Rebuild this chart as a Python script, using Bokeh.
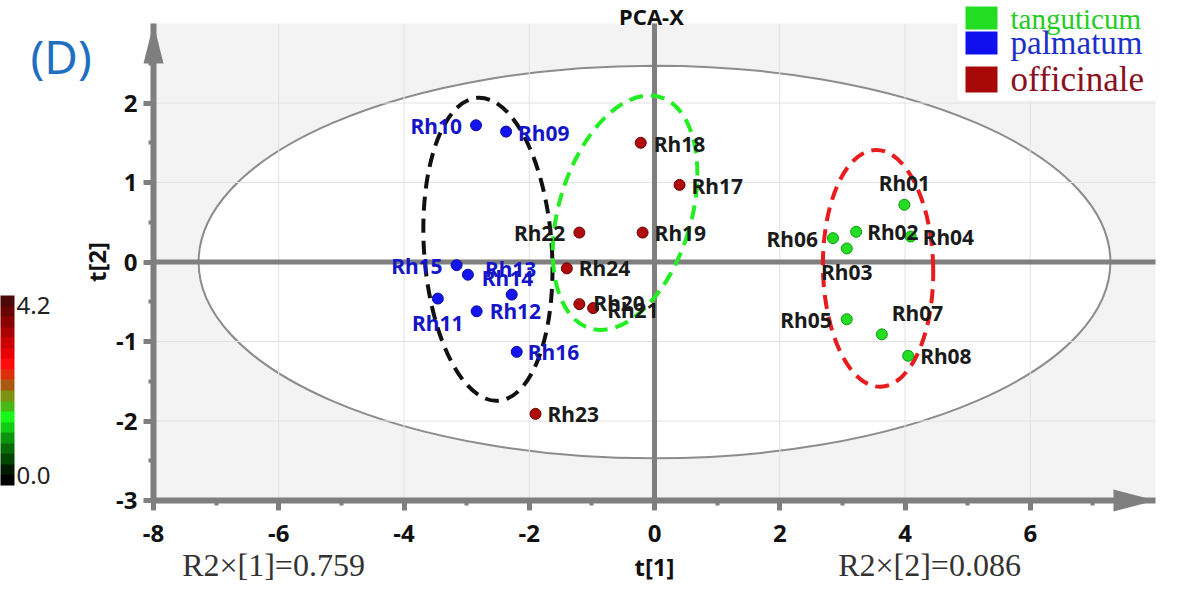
from bokeh.plotting import figure
from bokeh.models import (Range1d, FixedTicker, Label, BoxAnnotation, ColorBar,
                          LinearColorMapper, PrintfTickFormatter, ColumnDataSource)
from bokeh.core.properties import value
from bokeh.embed import file_html
from bokeh.resources import INLINE

# ---------------- data ----------------
TANG_NAMES = ["Rh01", "Rh02", "Rh03", "Rh04", "Rh05", "Rh06", "Rh07", "Rh08"]
TANG_T1 = [3.99, 3.22, 3.07, 4.09, 3.07, 2.85, 3.63, 4.05]
TANG_T2 = [0.72, 0.38, 0.17, 0.32, -0.72, 0.30, -0.91, -1.18]

PALM_NAMES = ["Rh09", "Rh10", "Rh11", "Rh12", "Rh13", "Rh14", "Rh15", "Rh16"]
PALM_T1 = [-2.37, -2.85, -3.46, -2.84, -2.98, -2.28, -3.16, -2.20]
PALM_T2 = [1.64, 1.72, -0.46, -0.62, -0.16, -0.41, -0.04, -1.13]

OFFI_NAMES = ["Rh17", "Rh18", "Rh19", "Rh20", "Rh21", "Rh22", "Rh23", "Rh24"]
OFFI_T1 = [0.40, -0.22, -0.19, -1.20, -0.98, -1.20, -1.90, -1.40]
OFFI_T2 = [0.97, 1.50, 0.37, -0.53, -0.58, 0.37, -1.91, -0.08]

GROUPS = ["tanguticum", "palmatum", "officinale"]

# Hotelling T2 ellipse (semi-axes)
HOT_A = 7.28
HOT_B = 2.47

# dashed cluster ellipses: centre x, centre y, width, height, angle
CL_X = [-2.66, -0.47, 3.57]
CL_Y = [0.16, 0.62, -0.08]
CL_W = [2.04, 2.11, 1.76]
CL_H = [3.82, 3.04, 2.98]
CL_ANGLE = [0.069, -0.295, 0.02]
CL_COLOR = ["#111111", "#22ee22", "#e81c1c"]

X_BOUNDS = (-8, 8)
Y_BOUNDS = (-3, 3)
X_TICKS = [-8, -6, -4, -2, 0, 2, 4, 6]
X_MINOR = [-7, -5, -3, -1, 1, 3, 5, 7]
Y_TICKS = [-3, -2, -1, 0, 1, 2]
Y_MINOR = [-2.5, -1.5, -0.5, 0.5, 1.5, 2.5]

CB_TICKS = [0.0, 4.2]
CB_PALETTE = ["#000000", "#021c02", "#044404", "#076a07", "#0a960a", "#12cc12", "#18f818",
              "#48b814", "#7c9210", "#aa5a10", "#de3008", "#ff0c0c", "#e80000", "#cc0000",
              "#aa0000", "#880000", "#6a0404", "#4a0808"]

R2X = [0.759, 0.086]

# ---------------- layout (pixels) ----------------
PXX, PXY = 62.625, 79.5      # pixels per unit
AX_X, AX_Y = 153, 500        # pixel position of x=-8 and y=-3
W, H = 1174, 585


def px2x(px):
    return X_BOUNDS[0] + (px - AX_X) / PXX


def px2y(py):
    return Y_BOUNDS[0] + (AX_Y - py) / PXY


FONT = "Noto Sans"
SERIF = "Liberation Serif"
GREY = "#7f7f7f"

p = figure(frame_width=W, frame_height=H,
           x_range=Range1d(px2x(0), px2x(W)), y_range=Range1d(px2y(H), px2y(0)),
           output_backend="svg", toolbar_location=None, title=None, min_border=0,
           background_fill_color="white", border_fill_color="white",
           outline_line_color=None)
p.grid.visible = False

# plot-area background and Hotelling ellipse
p.quad(left=[X_BOUNDS[0]], right=[X_BOUNDS[1]], bottom=[Y_BOUNDS[0]], top=[Y_BOUNDS[1]],
       fill_color="#f3f3f3", line_color=None, level="image")
p.ellipse(x=[0], y=[0], width=[2 * HOT_A], height=[2 * HOT_B], fill_color="white",
          line_color="#8c8c8c", line_width=2, level="image")

# grid lines
gx = [t for t in X_TICKS if t != X_BOUNDS[0]]
gy = [t for t in Y_TICKS if t != Y_BOUNDS[0]]
p.segment(x0=gx, x1=gx, y0=[Y_BOUNDS[0]] * len(gx), y1=[Y_BOUNDS[1]] * len(gx),
          line_color="#e2e2e2", line_width=1, level="underlay")
p.segment(x0=[X_BOUNDS[0]] * len(gy), x1=[X_BOUNDS[1]] * len(gy), y0=gy, y1=gy,
          line_color="#e2e2e2", line_width=1, level="underlay")
# centre lines
p.segment(x0=[0, X_BOUNDS[0]], x1=[0, X_BOUNDS[1]], y0=[Y_BOUNDS[0], 0], y1=[Y_BOUNDS[1], 0],
          line_color=GREY, line_width=5, level="underlay")

# cluster ellipses
p.ellipse(x=CL_X, y=CL_Y, width=CL_W, height=CL_H, angle=CL_ANGLE, fill_alpha=0,
          line_color=CL_COLOR, line_width=4, line_dash="14 8")

# points
STYLE = {
    "tanguticum": dict(fill="#22dd22", line="#129a12", text="#1a1a1a", leg="#22cc22", sq="#22dd22"),
    "palmatum": dict(fill="#1414ee", line="#0a0aa0", text="#1515c8", leg="#1a30c8", sq="#1010ee"),
    "officinale": dict(fill="#b00a0a", line="#6a0000", text="#1a1a1a", leg="#8b1020", sq="#a80808"),
}
DATA = {
    "tanguticum": (TANG_NAMES, TANG_T1, TANG_T2),
    "palmatum": (PALM_NAMES, PALM_T1, PALM_T2),
    "officinale": (OFFI_NAMES, OFFI_T1, OFFI_T2),
}

# label placement (align, x offset px, y offset px)
LABEL_POS = {
    "Rh01": ("center", 0, -22), "Rh02": ("left", 11, 0), "Rh03": ("center", 0, 24),
    "Rh04": ("left", 12, 0), "Rh05": ("right", -15, 1), "Rh06": ("right", -15, 1),
    "Rh07": ("left", 10, -21), "Rh08": ("left", 12, 0),
    "Rh09": ("left", 12, 1), "Rh10": ("right", -14, 1), "Rh11": ("center", 0, 24),
    "Rh12": ("left", 13, 0), "Rh13": ("left", 17, -6), "Rh14": ("left", -30, -17),
    "Rh15": ("right", -14, 1), "Rh16": ("left", 11, 0),
    "Rh17": ("left", 12, 1), "Rh18": ("left", 13, 1), "Rh19": ("left", 12, 0),
    "Rh20": ("left", 14, -1), "Rh21": ("left", 14, 2), "Rh22": ("right", -14, 0),
    "Rh23": ("left", 12, 0), "Rh24": ("left", 12, 0),
}

for g in GROUPS:
    names, t1, t2 = DATA[g]
    st = STYLE[g]
    p.scatter(x=t1, y=t2, size=11, fill_color=st["fill"], line_color=st["line"], line_width=1)
    for align in ("left", "right", "center"):
        idx = [i for i, n in enumerate(names) if LABEL_POS[n][0] == align]
        if not idx:
            continue
        src = ColumnDataSource(dict(
            x=[t1[i] for i in idx], y=[t2[i] for i in idx], text=[names[i] for i in idx],
            dx=[LABEL_POS[names[i]][1] for i in idx], dy=[LABEL_POS[names[i]][2] for i in idx]))
        p.text(x="x", y="y", text="text", x_offset="dx", y_offset="dy", source=src,
               text_align=align, text_baseline="middle", text_font=value(FONT),
               text_font_style="bold", text_font_size="21px", text_color=st["text"])

# arrow heads at the axis ends
p.patches(xs=[[X_BOUNDS[0] - 10 / PXX, X_BOUNDS[0], X_BOUNDS[0] + 10 / PXX],
              [X_BOUNDS[1] - 42 / PXX, X_BOUNDS[1], X_BOUNDS[1] - 42 / PXX]],
          ys=[[Y_BOUNDS[1] - 40 / PXY, Y_BOUNDS[1], Y_BOUNDS[1] - 40 / PXY],
              [Y_BOUNDS[0] + 11 / PXY, Y_BOUNDS[0], Y_BOUNDS[0] - 11 / PXY]],
          fill_color=GREY, line_color=None)

# axes, fixed at the plot-area edges
xa = p.xaxis[0]
ya = p.yaxis[0]
xa.fixed_location = Y_BOUNDS[0]
ya.fixed_location = X_BOUNDS[0]
xa.bounds = X_BOUNDS
ya.bounds = Y_BOUNDS
xa.ticker = FixedTicker(ticks=X_TICKS, minor_ticks=X_MINOR)
ya.ticker = FixedTicker(ticks=Y_TICKS, minor_ticks=Y_MINOR)
for ax in (xa, ya):
    ax.formatter = PrintfTickFormatter(format="%d")
    ax.axis_line_color = GREY
    ax.axis_line_width = 6
    ax.major_tick_line_color = GREY
    ax.major_tick_line_width = 5
    ax.major_tick_out = 10
    ax.major_tick_in = 0
    ax.minor_tick_line_color = GREY
    ax.minor_tick_line_width = 4
    ax.minor_tick_out = 5
    ax.minor_tick_in = 0
    ax.major_label_text_font = FONT
    ax.major_label_text_font_style = "bold"
    ax.major_label_text_font_size = "24px"
    ax.major_label_text_color = "#111111"
    ax.axis_label_text_font = FONT
    ax.axis_label_text_font_style = "bold"
    ax.axis_label_text_font_size = "24px"
    ax.axis_label_text_color = "#111111"
xa.axis_label = "t[1]"
ya.axis_label = "t[2]"
xa.major_label_standoff = 14
xa.axis_label_standoff = 5
ya.major_label_standoff = 6
ya.axis_label_standoff = 0

# texts around the plot area
p.add_layout(Label(x=px2x(651), y=px2y(15), text="PCA-X", text_align="center",
                   text_baseline="middle", text_font=FONT, text_font_style="bold",
                   text_font_size="22px", text_color="#111111"))
p.add_layout(Label(x=px2x(30), y=px2y(55), text="(D)", text_align="left",
                   text_baseline="middle", text_font=FONT, text_font_size="46px",
                   text_color="#1f6fc0"))
R2_CENTER_PX = [273, 929]
for i in range(2):
    p.add_layout(Label(x=px2x(R2_CENTER_PX[i]), y=px2y(564),
                       text="R2\u00d7[%d]=%.3f" % (i + 1, R2X[i]), text_align="center",
                       text_baseline="middle", text_font=SERIF, text_font_size="32px",
                       text_color="#333333"))

# species legend (top right)
p.add_layout(BoxAnnotation(left=px2x(957), right=X_BOUNDS[1], bottom=px2y(100), top=Y_BOUNDS[1],
                           fill_color="white", fill_alpha=1, line_color=None))
LEG_SQ = [(6, 29), (31, 54), (66, 92)]
LEG_MID = [18, 42, 79]
LEG_SIZE = ["29px", "33px", "35px"]
for i, g in enumerate(GROUPS):
    st = STYLE[g]
    p.add_layout(BoxAnnotation(left=px2x(965), right=px2x(997), top=px2y(LEG_SQ[i][0]),
                               bottom=px2y(LEG_SQ[i][1]), fill_color=st["sq"],
                               fill_alpha=1, line_color=None))
    p.add_layout(Label(x=px2x(1010), y=px2y(LEG_MID[i]), text=g, text_align="left",
                       text_baseline="middle", text_font=SERIF, text_font_size=LEG_SIZE[i],
                       text_color=st["leg"]))

# colour bar
pad = 0.25
cmap = LinearColorMapper(palette=CB_PALETTE, low=CB_TICKS[0] - pad, high=CB_TICKS[1] + pad)
cb = ColorBar(color_mapper=cmap, orientation="vertical", width=14, height=190,
              location=(0, H - 485), padding=0, ticker=FixedTicker(ticks=CB_TICKS),
              formatter=PrintfTickFormatter(format="%.1f"), major_tick_line_color=None,
              major_label_text_font=FONT, major_label_text_font_size="24px",
              major_label_text_color="#222222", label_standoff=2,
              background_fill_alpha=0, border_line_color=None, bar_line_color=None)
p.add_layout(cb, "center")

open("out.html", "w").write(file_html(p, INLINE))
